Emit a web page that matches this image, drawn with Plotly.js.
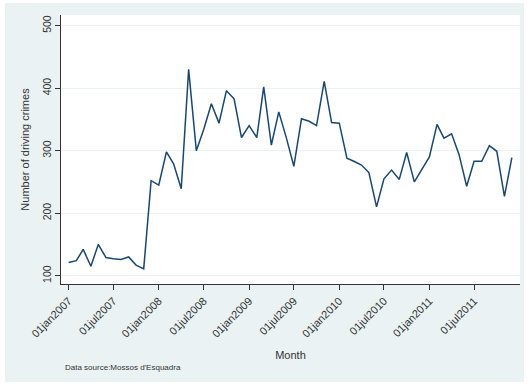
<!DOCTYPE html>
<html>
<head>
<meta charset="utf-8">
<script src="https://cdn.plot.ly/plotly-3.0.1.min.js"></script>
<style>
  html, body { margin: 0; padding: 0; background: #ffffff; }
  #chart { position: absolute; left: 5px; top: 3px; width: 519px; height: 379px; }
</style>
</head>
<body>
<div id="chart"></div>
<script>
// Monthly driving crimes, January 2007 to December 2011
const months = [
  '2007-01-01','2007-02-01','2007-03-01','2007-04-01','2007-05-01','2007-06-01',
  '2007-07-01','2007-08-01','2007-09-01','2007-10-01','2007-11-01','2007-12-01',
  '2008-01-01','2008-02-01','2008-03-01','2008-04-01','2008-05-01','2008-06-01',
  '2008-07-01','2008-08-01','2008-09-01','2008-10-01','2008-11-01','2008-12-01',
  '2009-01-01','2009-02-01','2009-03-01','2009-04-01','2009-05-01','2009-06-01',
  '2009-07-01','2009-08-01','2009-09-01','2009-10-01','2009-11-01','2009-12-01',
  '2010-01-01','2010-02-01','2010-03-01','2010-04-01','2010-05-01','2010-06-01',
  '2010-07-01','2010-08-01','2010-09-01','2010-10-01','2010-11-01','2010-12-01',
  '2011-01-01','2011-02-01','2011-03-01','2011-04-01','2011-05-01','2011-06-01',
  '2011-07-01','2011-08-01','2011-09-01','2011-10-01','2011-11-01','2011-12-01'
];
const crimes = [
  121, 124, 142, 115, 150, 129, 127, 126, 130, 117, 111, 252,
  245, 298, 279, 239, 430, 300, 334, 375, 344, 396, 383, 321,
  340, 321, 402, 309, 362, 320, 275, 351, 347, 340, 411, 345,
  344, 288, 283, 277, 265, 210, 255, 269, 254, 297, 250, 269,
  290, 342, 320, 327, 294, 243, 283, 283, 308, 299, 227, 289
];

const tickDates = ['2007-01-01','2007-07-01','2008-01-01','2008-07-01','2009-01-01',
                   '2009-07-01','2010-01-01','2010-07-01','2011-01-01','2011-07-01'];
const tickLabels = ['01jan2007','01jul2007','01jan2008','01jul2008','01jan2009',
                    '01jul2009','01jan2010','01jul2010','01jan2011','01jul2011'];
const yTicks = [100, 200, 300, 400, 500];

const font = 'Liberation Sans, Arial, sans-serif';
const ink = '#333333';

const trace = {
  x: months,
  y: crimes,
  type: 'scatter',
  mode: 'lines',
  line: { color: '#1a476f', width: 1.5 },
  hoverinfo: 'x+y'
};

const layout = {
  width: 519,
  height: 379,
  margin: { l: 56, r: 4, t: 12, b: 98 },
  paper_bgcolor: '#eaf2f3',
  plot_bgcolor: '#ffffff',
  showlegend: false,
  font: { family: font, color: ink, size: 11 },
  xaxis: {
    type: 'date',
    range: ['2006-12-01', '2012-01-03'],
    tickmode: 'array',
    tickvals: tickDates,
    ticktext: tickLabels,
    tickangle: -45,
    ticks: 'outside',
    ticklen: 5,
    tickwidth: 1,
    tickcolor: ink,
    showline: true,
    linecolor: ink,
    linewidth: 1.3,
    showgrid: false,
    zeroline: false,
    tickfont: { family: font, size: 11, color: ink },
    title: { text: 'Month', font: { family: font, size: 11, color: ink }, standoff: 12 },
    automargin: false
  },
  yaxis: {
    range: [86.7, 517],
    tickmode: 'array',
    tickvals: yTicks,
    ticktext: yTicks.map(String),
    tickangle: -90,
    ticks: 'outside',
    ticklen: 5,
    tickwidth: 1,
    tickcolor: ink,
    showline: true,
    linecolor: ink,
    linewidth: 1.3,
    showgrid: true,
    gridcolor: '#eaf2f3',
    gridwidth: 1,
    zeroline: false,
    tickfont: { family: font, size: 10.5, color: ink },
    title: { text: 'Number of driving crimes', font: { family: font, size: 11, color: ink }, standoff: 8 },
    automargin: false
  },
  annotations: [{
    text: "Data source:Mossos d'Esquadra",
    xref: 'paper', yref: 'paper',
    x: 0.004, y: -0.309,
    xanchor: 'left', yanchor: 'middle',
    showarrow: false,
    font: { family: font, size: 8, color: ink }
  }]
};

Plotly.newPlot('chart', [trace], layout, { displayModeBar: false, staticPlot: true });
</script>
</body>
</html>
